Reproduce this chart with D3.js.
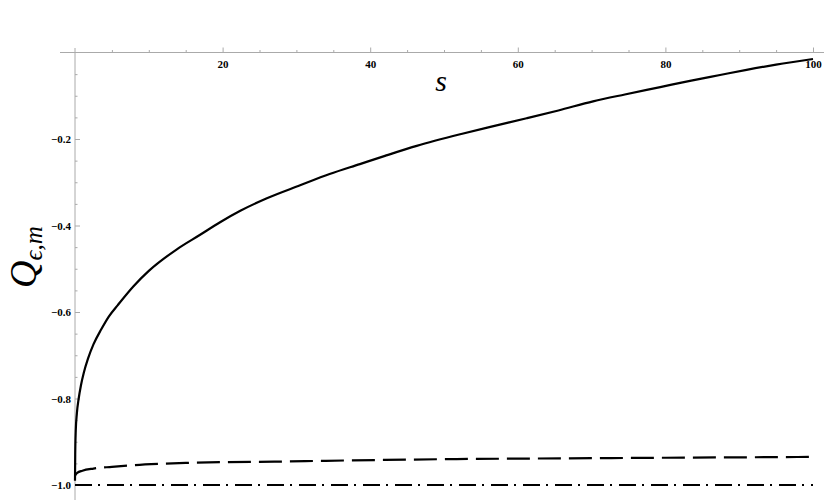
<!DOCTYPE html>
<html>
<head>
<meta charset="utf-8">
<script src="https://cdn.jsdelivr.net/npm/d3@7"></script>
<style>
  body { margin: 0; background: #fff; }
  svg { display: block; }
  .tick text { font-family: "Liberation Serif", "Times New Roman", serif; font-size: 11px; font-weight: bold; fill: #000; }
  .tick line { stroke: #aaa; }
</style>
</head>
<body>
<div class="canvas"></div>
<script>
// values
const solidS = [0, 0.03, 0.1, 0.25, 0.5, 0.8, 1.2, 1.76, 2.5, 3.56, 4.6, 5.8, 7.9, 10, 13.8, 16.9, 19.6, 22.4, 26, 30.5, 34.5, 38.6, 42, 46.3, 52.2, 56, 61.2, 65.5, 70.2, 74.5, 79.3, 83.5, 87.4, 91, 95, 100];
const solidQ = [-0.99, -0.93, -0.875, -0.835, -0.8, -0.77, -0.74, -0.708, -0.675, -0.64, -0.61, -0.584, -0.541, -0.505, -0.455, -0.422, -0.393, -0.366, -0.337, -0.307, -0.281, -0.258, -0.239, -0.216, -0.189, -0.173, -0.152, -0.134, -0.113, -0.097, -0.08, -0.065, -0.052, -0.04, -0.028, -0.015];

const dashedS = [0, 0.3, 1, 2.5, 5, 8, 11.5, 15, 20.5, 27, 34, 42, 51.7, 60, 70, 80, 90, 100];
const dashedQ = [-0.978, -0.972, -0.967, -0.962, -0.958, -0.954, -0.951, -0.949, -0.947, -0.946, -0.944, -0.942, -0.94, -0.939, -0.938, -0.937, -0.936, -0.935];

const dotDashS = [0, 100];
const dotDashQ = [-1.0, -1.0];

const xMajor = [20, 40, 60, 80, 100];
const xMinor = d3.range(5, 100, 5).filter(v => v % 20 !== 0);
const yMajor = [-0.2, -0.4, -0.6, -0.8, -1.0];
const yMinor = d3.range(1, 21).map(i => -i * 0.05).filter(v => Math.abs(v * 5 - Math.round(v * 5)) > 1e-6);

const width = 824, height = 500;

const svg = d3.select('.canvas')
    .append('svg')
    .attr('width', width)
    .attr('height', height);

const x = d3.scaleLinear().domain([0, 100]).range([75, 813]);
const y = d3.scaleLinear().domain([0, -1]).range([52.5, 485]);

// axis lines
svg.append('line')
    .attr('x1', 60).attr('x2', width)
    .attr('y1', y(0)).attr('y2', y(0))
    .attr('stroke', '#aaa');
svg.append('line')
    .attr('x1', x(0)).attr('x2', x(0))
    .attr('y1', 48).attr('y2', height)
    .attr('stroke', '#aaa');

// x ticks point up, labels below
svg.append('g')
    .attr('transform', `translate(0,${y(0)})`)
    .call(d3.axisBottom(x).tickValues(xMinor).tickSize(-2.5).tickFormat(''))
    .call(g => g.select('.domain').remove());
svg.append('g')
    .attr('transform', `translate(0,${y(0)})`)
    .call(d3.axisBottom(x).tickValues(xMajor).tickSize(-5).tickPadding(8).tickFormat(d3.format('d')))
    .call(g => g.select('.domain').remove());

// y ticks point right, labels left
const yFmt = d => (d < 0 ? '\u2212' : '') + Math.abs(d).toFixed(1);
svg.append('g')
    .attr('transform', `translate(${x(0)},0)`)
    .call(d3.axisLeft(y).tickValues(yMinor).tickSize(-2.5).tickFormat(''))
    .call(g => g.select('.domain').remove());
svg.append('g')
    .attr('transform', `translate(${x(0)},0)`)
    .call(d3.axisLeft(y).tickValues(yMajor).tickSize(-5).tickPadding(4).tickFormat(yFmt))
    .call(g => g.select('.domain').remove());

// curves
const line = d3.line()
    .x(d => x(d[0]))
    .y(d => y(d[1]))
    .curve(d3.curveMonotoneX);

const series = [
    {s: dotDashS, q: dotDashQ, dash: '17,6,2,7'},
    {s: dashedS, q: dashedQ, dash: '23,8'},
    {s: solidS, q: solidQ, dash: null}
];

svg.selectAll('path.curve').data(series).join('path')
    .attr('class', 'curve')
    .attr('d', d => line(d.s.map((v, i) => [v, d.q[i]])))
    .attr('fill', 'none')
    .attr('stroke', '#000')
    .attr('stroke-width', 2.2)
    .attr('stroke-dasharray', d => d.dash);

// axis titles
svg.append('text')
    .attr('x', 441).attr('y', 91)
    .attr('text-anchor', 'middle')
    .attr('font-family', '"Liberation Serif", serif')
    .attr('font-style', 'italic')
    .attr('font-size', 30)
    .text('s');

const yt = svg.append('text')
    .attr('transform', 'translate(36,288) rotate(-90)')
    .attr('text-anchor', 'start')
    .attr('font-family', '"Liberation Serif", serif')
    .attr('font-style', 'italic')
    .attr('font-size', 38);
yt.append('tspan').text('Q');
yt.append('tspan').attr('font-size', 25).attr('dy', 6).text('\u03f5,m');
</script>
</body>
</html>
